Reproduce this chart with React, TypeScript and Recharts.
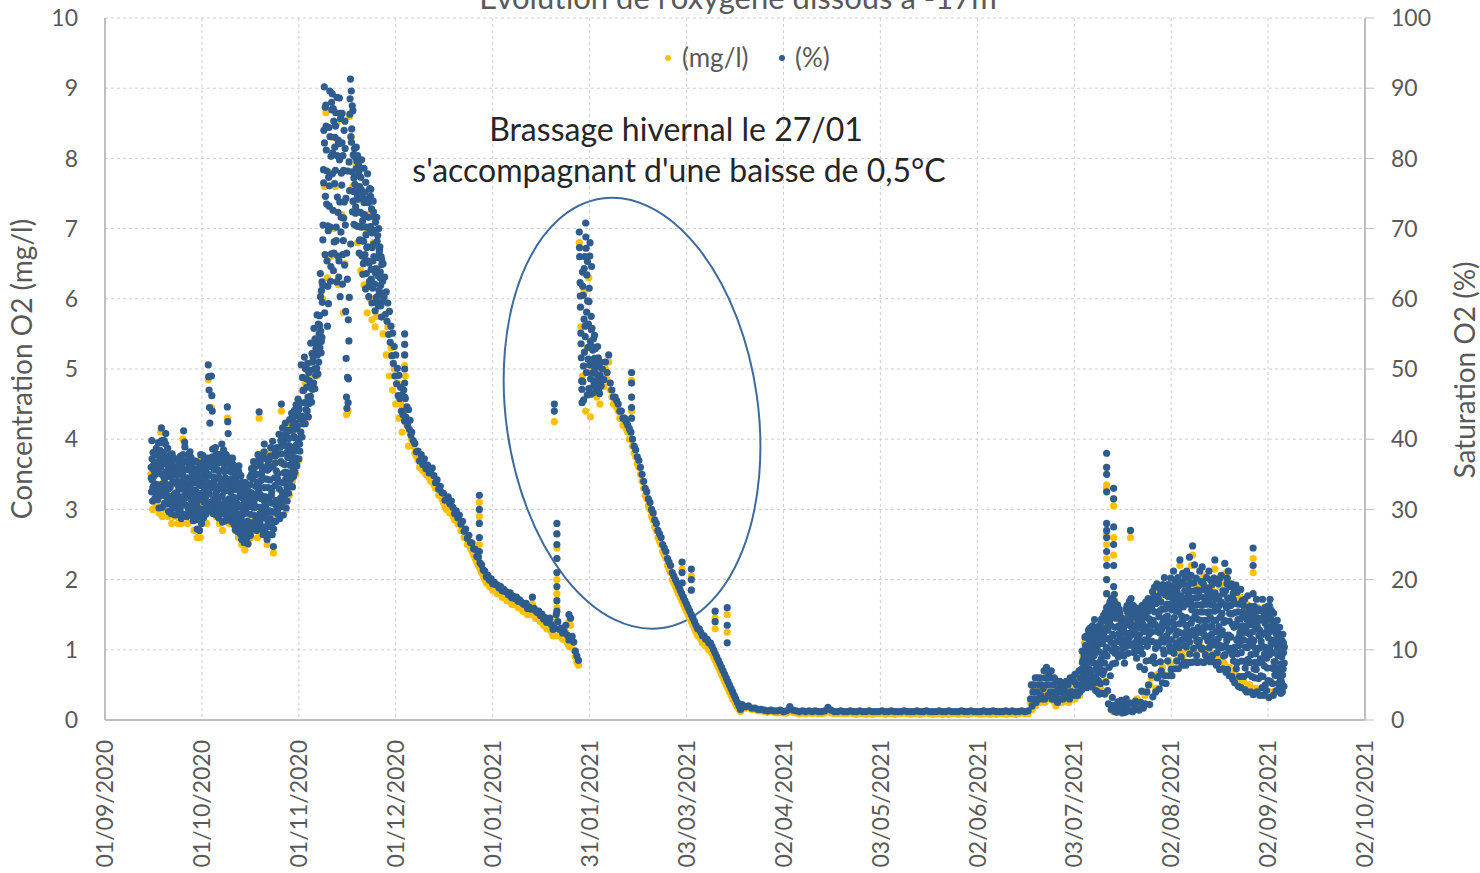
import React from 'react';
import { ScatterChart, Scatter, XAxis, YAxis, CartesianGrid, ReferenceArea } from 'recharts';

const FONT = 'Lato, "Open Sans", sans-serif';
const TXT = '#595959';

// x axis: days since 01/09/2020
const xTickDays = [0, 30.5, 61, 91.5, 122, 152.5, 183, 213.5, 244, 274.5, 305, 335.5, 366, 396.5];
const xTickLabels = ['01/09/2020', '01/10/2020', '01/11/2020', '01/12/2020', '01/01/2021', '31/01/2021', '03/03/2021', '02/04/2021', '03/05/2021', '02/06/2021', '03/07/2021', '02/08/2021', '02/09/2021', '02/10/2021'];
const leftTicks = [0, 1, 2, 3, 4, 5, 6, 7, 8, 9, 10];
const rightTicks = [0, 10, 20, 30, 40, 50, 60, 70, 80, 90, 100];

// ---- Saturation (%) series ----
// every 0.125 day
const pctAutumnStart = 14.5;
const pctAutumn = [
  36.0,32.5,39.8,34.2,31.2,38.1,33.3,35.6, 34.8,37.9,31.6,35.9,33.0,38.7,35.1,32.2,
  35.6,31.4,39.5,33.5,30.2,37.9,32.4,36.6, 37.2,33.1,41.6,35.0,30.3,39.5,32.0,38.1,
  34.6,39.8,30.9,36.5,32.7,40.8,35.4,31.8, 34.7,30.8,38.7,32.9,29.7,37.2,31.8,35.8,
  33.1,36.7,29.4,34.6,31.2,37.9,33.8,30.3, 33.9,30.3,37.3,32.2,29.2,36.0,31.1,34.9,
  32.4,35.8,29.3,34.0,30.6,36.8,33.1,30.0, 33.7,29.9,37.6,31.8,28.7,36.2,30.8,34.8,
  35.3,31.2,41.2,33.6,29.3,38.9,32.0,36.8, 32.6,36.8,29.0,34.5,30.4,37.8,33.3,29.6,
  34.0,30.3,38.2,32.1,29.2,36.6,31.2,35.2, 32.0,35.9,28.4,33.8,29.8,36.9,32.8,29.1,
  32.6,28.5,36.8,30.6,27.2,35.1,29.5,33.7, 31.3,35.9,27.0,33.4,29.0,37.8,32.3,28.0,
  33.8,30.0,37.7,32.0,28.8,36.3,31.0,34.9, 32.7,36.2,29.3,34.4,30.8,37.3,33.5,30.0,
  50.6,48.9,47.0,44.5,42.3,36.1,31.0,33.7, 49.0,46.2,44.0,38.6,29.4,34.6,31.5,36.8,
  34.2,30.1,38.8,32.3,29.2,37.2,31.2,35.6, 32.8,36.6,28.8,34.6,30.5,37.8,33.4,29.7,
  34.0,29.8,39.3,31.9,28.2,37.6,30.8,35.7, 32.6,36.4,28.4,34.5,30.1,37.8,33.5,29.2,
  44.6,42.5,40.8,35.5,28.8,33.4,30.4,37.3, 32.5,36.2,28.3,34.3,29.9,37.3,33.2,29.1,
  31.7,27.8,35.8,29.8,27.1,34.2,28.7,32.8, 30.9,34.9,26.8,32.9,28.6,36.2,31.8,27.7,
  30.5,26.5,34.8,28.6,25.7,33.2,27.5,31.6, 29.3,32.8,25.3,31.1,27.0,33.8,30.2,26.1,
  29.5,25.8,33.3,27.7,25.1,32.0,26.8,30.6, 30.4,34.6,26.3,32.4,28.1,35.8,31.4,27.2,
  32.2,28.0,36.8,30.2,27.2,35.1,29.1,33.3, 31.6,36.2,27.0,33.9,29.0,37.8,32.7,27.9,
  43.9,33.2,28.1,36.8,30.3,27.2,35.0,31.5, 31.9,37.6,26.4,34.4,28.8,39.3,33.1,27.5,
  31.8,26.6,37.2,29.5,25.7,35.6,28.4,33.1, 31.5,37.1,26.4,34.2,28.7,38.8,33.0,27.5,
  32.6,26.4,39.7,29.6,24.7,37.7,28.2,34.5, 33.4,37.6,28.3,35.5,30.4,38.8,34.4,29.3,
  35.1,30.2,40.7,32.9,28.7,38.9,31.6,36.8, 45.0,36.6,30.4,41.6,33.8,29.2,39.6,35.2,
  36.4,32.0,42.3,34.3,30.2,40.4,33.1,38.2, 37.4,41.2,32.3,39.1,34.4,42.8,36.3,33.3,
  38.8,34.4,43.7,36.7,33.2,42.0,35.6,40.4, 40.2,44.1,35.3,42.3,37.3,44.9,39.2,36.2,
  41.8,38.4,45.7,40.1,37.2,44.3,39.3,42.9,
];
// extra readings in the core of the autumn band, every 0.25 day
const pctAutumnCoreStart = 14.5625;
const pctAutumnCore = [
  34.5,37.2,33.1,36.3, 36.4,33.6,37.8,32.9, 33.2,36.8,31.9,38.4, 36.0,39.8,33.6,37.5,
  37.4,33.8,39.3,32.1, 33.5,36.3,31.0,37.7, 35.4,31.8,36.5,30.5, 31.6,35.3,30.2,33.7,
  34.9,31.4,35.6,33.3, 30.2,35.5,32.9,37.0, 37.8,34.4,39.6,30.6, 31.7,35.7,33.9,30.1,
  36.1,33.0,37.4,30.6, 30.7,34.6,31.5,35.4, 34.3,29.6,32.0,35.9, 30.1,34.6,36.6,29.3,
  35.6,29.8,33.2,37.0, 31.6,35.3,32.2,36.6, 35.0,32.2,37.3,29.8, 33.1,37.5,30.3,35.7,
  36.4,33.3,37.9,30.6, 31.5,35.5,29.9,37.0, 33.0,36.8,29.4,38.5, 35.4,31.2,37.1,29.4,
  34.2,36.5,31.5,32.6, 30.9,35.3,31.8,36.4, 33.8,30.4,35.0,28.3, 29.4,33.7,35.4,30.4,
  32.5,27.4,33.9,29.6, 27.8,31.9,26.4,32.9, 31.4,28.3,32.6,26.5, 33.5,29.3,35.0,27.4,
  34.3,31.1,36.0,28.3, 30.4,35.0,28.4,36.9, 32.3,29.4,34.1,36.1, 35.6,29.9,38.2,31.0,
  30.6,34.3,27.5,36.4, 35.8,29.8,37.6,32.0, 30.9,36.1,27.2,38.6, 36.6,31.3,37.9,29.6,
  33.9,37.9,30.9,39.8, 37.9,32.4,40.5,31.3, 39.1,35.3,41.3,31.2, 35.2,40.1,33.6,38.1,
  41.3,37.7,42.9,34.7, 38.3,41.4,36.5,43.4, 43.7,39.9,44.9,38.3,
];
// every 0.125 day
const pctPeakStart = 61.5;
const pctPeak = [
  45.2,41.0,50.6,43.3,40.3,48.8,42.2,46.9, 47.0,43.1,51.7,45.2,42.2,50.0,44.2,48.6,
  47.4,44.0,50.8,46.0,43.2,49.5,45.1,48.3, 49.8,46.1,53.7,48.0,45.3,52.2,47.1,51.0,
  51.7,48.0,55.8,50.0,47.2,54.3,49.1,52.9, 53.5,50.1,57.7,52.0,49.3,56.4,51.0,55.0,
  57.6,53.0,63.6,55.4,52.3,61.2,54.5,59.5, 62.0,70.5,78.4,84.0,90.2,58.0,66.3,74.6,
  87.6,81.2,73.5,65.4,56.1,61.8,69.7,77.3, 84.4,76.1,89.6,70.2,62.5,80.3,66.4,86.9,
  89.2,80.8,72.6,64.0,85.3,68.1,76.4,83.0, 78.3,86.5,70.2,62.4,88.7,74.5,66.1,82.6,
  82.1,65.4,88.6,73.8,60.3,85.7,69.5,77.9, 76.2,86.4,62.1,80.4,68.3,71.5,84.0,64.8,
  85.3,70.5,58.2,51.5,46.0,44.4,62.8,78.2, 45.2,48.6,54.0,60.2,75.4,88.5,91.3,83.1,
  89.6,84.2,78.1,72.4,86.8,80.5,75.3,70.6, 81.4,76.3,80.2,73.1,78.5,70.4,79.6,74.8,
  80.4,74.2,70.3,78.1,66.5,76.0,68.4,72.3, 77.3,70.2,79.8,66.1,74.4,63.5,72.0,68.2,
  78.6,72.0,65.3,75.2,61.4,69.1,63.6,67.3, 74.2,77.8,67.4,71.6,60.3,65.1,62.5,69.8,
  70.3,75.6,64.2,72.8,59.4,67.3,61.5,73.9, 72.4,66.0,69.8,62.1,58.3,70.9,64.3,60.2,
  71.6,68.2,65.9,63.3,59.0,70.0,61.2,67.1, 67.4,63.8,61.9,66.0,57.4,64.9,59.6,62.5,
];
// extra readings in the core of the November peak, every 0.25 day
const pctPeakCoreStart = 67.5625;
const pctPeakCore = [
  56.2,60.3,53.9,62.4, 68.4,76.5,82.2,87.3, 84.6,78.2,70.4,59.3, 73.2,83.1,64.6,88.0,
  77.8,87.1,66.5,81.6, 84.6,68.3,80.4,72.3, 63.1,79.8,86.4,71.6, 82.2,66.3,78.3,73.8,
  81.4,74.3,66.5,48.8, 57.0,79.5,86.3,67.8, 82.3,87.5,73.9,77.2, 77.4,72.2,81.6,75.5,
  72.4,79.0,68.3,75.2, 75.6,68.3,71.1,65.0, 73.7,66.3,76.6,70.2, 65.4,73.7,61.8,75.7,
  74.6,62.8,69.4,65.4, 67.8,71.6,63.7,59.6, 64.2,69.0,60.5,66.7, 63.0,59.0,65.6,60.7,
];
// every 0.25 day
const pctFallStart = 87.5;
const pctFall = [
  65.0,60.3,63.1,57.8, 61.0,56.8,59.4,54.9, 58.2,53.8,56.1,51.9, 55.1,50.8,53.2,49.0,
  52.0,47.9,50.1,46.2, 49.1,45.8,47.4,44.0, 46.3,43.5,47.0,42.6, 45.8,43.1,44.6,41.9,
  44.2,41.4,42.7,40.6,
];
// every 0.5 day
const pctWinterStart = 96.5;
const pctWinter = [
  41,39.8, 39.4,38.2, 38.3,36.9, 37.8,36.4, 37.2,35.8, 36.3,35.2, 35.4,35.9, 34.8,33.8, 34.2,32.9, 33.3,32.4,
  32.3,31.3, 31.4,31.8, 30.8,31.2, 30.3,29.4, 29.8,28.8, 29.2,27.9, 28.3,26.9, 27.2,25.9, 26.3,25.3, 25.2,24.4,
  24.3,23.3, 23.2,22.4, 22.1,21.4, 21.2,20.4, 20.6,19.9, 20.1,19.4, 19.6,19.3, 19.2,18.8, 19,18.4, 18.6,18.3,
  18.2,17.8, 18.1,17.4, 17.6,17.3, 17.5,16.9, 17.1,16.8, 16.6,16.4, 16.6,15.9, 16.1,15.8, 17.5,15.9, 15.6,15.3,
  15.5,14.9, 15.1,14.4, 14.6,13.9, 14.1,14.5, 13.6,12.9, 13.1,15, 14,12.9, 13.1,12.4, 12.6,13.5, 12.1,11.4,
  14.5,11.9, 11.1,9.8, 9.1,8.5,
];
// every 0.125 day
const pctMixStart = 149.25;
const pctMix = [
  69.5,66.0,62.3,58.8,55.1,51.6,48.3,45.2, 63.8,48.2,60.5,45.6,57.1,52.4,66.0,54.6,
  70.8,67.2,49.5,63.4,46.3,59.7,53.1,56.4, 47.2,61.5,50.6,68.0,53.9,46.4,57.5,64.6,
  55.8,49.4,52.7,46.6,54.3,48.2,51.5,50.1, 52.9,48.1,51.4,47.3,50.5,49.2,53.2,48.7,
  51.6,47.2,50.3,46.5,49.1,48.0,51.0,47.6,
];
const pctMixCoreStart = 149.3125;
const pctMixCore = [
  67.3,60.4,53.6,47.1, 61.8,50.4,64.3,56.1, 68.8,58.1,65.3,51.4, 59.6,66.1,48.6,55.6, 53.2,50.7,47.6,54.8,
];
// every 0.5 day
const pctSpringStart = 156.5;
const pctSpring = [
  50,48.5, 51,49.5, 52,48, 47,46, 46,45.5, 45,44, 44,43, 43,42.5, 42,41.5, 41,40,
  39,38.5, 37.5,37, 36,35, 34,33, 32.5,31.5, 31,30, 29.5,28.5, 28,27, 26.5,26, 25,24.5,
  24,23, 22.5,22, 21,20.5, 20,19.5, 19,18.5, 18,17.5, 17,16.5, 16,15.5, 15,14.5, 14,13.5,
  13,13, 12.5,12, 12,11.5, 11.5,11, 11,10.5, 10,9.5, 9,8.5, 8,7.5, 7,6.5, 6,5.5,
  5,4.5, 4,3.5, 3,2.5, 2,1.5,
];
// every day
const pctAnoxStart = 200.5;
const pctAnox = [
  2.2,1.9,2.0,1.7,1.7,1.5,1.5,1.4,1.3,1.4, 1.3,1.3,1.4,1.2,1.3,1.9,1.4,1.3,1.2,1.3,
  1.2,1.3,1.2,1.3,1.2,1.2,1.3,1.8,1.4,1.2, 1.2,1.3,1.2,1.2,1.3,1.2,1.2,1.3,1.2,1.2,
  1.3,1.2,1.2,1.2,1.3,1.2,1.2,1.3,1.2,1.2, 1.2,1.3,1.2,1.2,1.2,1.3,1.2,1.2,1.3,1.2,
  1.2,1.2,1.3,1.2,1.2,1.3,1.2,1.2,1.2,1.3, 1.2,1.2,1.3,1.2,1.2,1.2,1.3,1.2,1.2,1.3,
  1.2,1.2,1.2,1.3,1.2,1.3,1.2,1.2,1.3,1.2, 1.3,
];
// every 0.25 day
const pctEarlySummerStart = 291.25;
const pctEarlySummer = [
  3,5,2,4, 5,3,6,2.5, 4,6,3,5, 6,3.5,5,3, 4.5,7,3,6, 7.5,5,3.5,6.5, 6,4,7,3, 5,3,6,4,
  3.5,5.5,2.5,4.5, 4,5.5,3,5, 5,3,4.5,3.5, 4,5.5,3.5,5, 5.5,3,6,4, 4,6,3.5,5.5, 6.5,4,5,3.5,
  5,7,4,6,
];
// every 0.125 day
const pctSummerStart = 307.25;
const pctSummer = [
  7.2,4.3,9.8,5.9,8.5,4.9,6.6,9.1, 8.4,11.8,5.0,10.1,6.6,12.0,4.6,9.3,
  9.7,5.4,12.8,7.3,11.4,6.2,13.1,8.5, 12.9,6.1,10.4,4.7,13.4,8.2,11.6,5.5,
  9.2,14.3,5.3,11.9,4.2,13.0,7.4,10.6, 11.1,4.0,13.3,6.8,9.7,3.7,12.4,8.3,
  5.2,13.8,8.7,14.4,3.8,10.9,6.5,12.2, 14.9,7.0,11.6,3.7,15.3,9.3,5.4,13.1,
  10.3,15.9,4.2,12.8,2.3,16.3,7.5,14.0, 16.8,6.3,13.5,1.5,17.3,9.9,3.2,12.2,
  2.1,15.4,10.4,17.9,1.2,13.2,8.1,16.2, 14.6,1.1,11.2,16.4,2.6,9.0,13.4,1.8,
  9.3,15.2,1.4,12.6,2.8,14.1,10.9,1.0, 12.4,1.6,14.3,9.1,2.2,11.0,13.5,1.1,
  15.8,3.0,11.6,16.3,1.6,13.7,9.5,14.9, 1.3,16.9,10.8,14.2,2.4,17.3,12.5,15.6,
  14.8,1.2,12.2,16.3,9.6,2.1,15.4,11.0, 2.7,13.3,15.4,8.8,1.6,11.5,14.3,10.0,
  15.9,1.4,12.1,7.6,14.2,2.5,10.2,13.3, 4.1,16.3,9.4,13.6,1.7,15.0,11.2,7.2,
  12.6,2.3,16.8,8.4,14.6,4.0,10.5,15.6, 17.3,5.0,11.3,14.4,2.2,16.0,8.5,12.6,
  6.4,15.9,11.2,18.3,3.3,13.5,9.0,17.0, 18.9,8.1,13.6,4.0,16.6,11.0,19.4,6.0,
  10.5,17.4,6.2,14.7,4.4,18.8,12.4,8.3, 18.2,7.0,12.9,15.8,5.3,19.3,10.0,14.3,
  9.4,20.3,6.3,14.6,17.8,5.2,12.0,16.4, 16.5,8.4,19.3,11.4,6.3,14.0,18.0,9.8,
  12.8,20.2,7.2,15.7,6.3,18.4,10.2,17.2, 21.2,9.5,14.6,17.8,7.3,19.9,12.1,16.0,
  8.4,18.3,12.6,20.3,7.3,15.4,10.3,17.1, 22.8,11.3,16.5,9.0,19.6,7.8,14.2,20.9,
  14.3,19.4,8.2,17.3,10.6,20.3,12.5,7.8, 10.4,21.2,13.4,16.5,8.2,19.3,11.8,18.0,
  23.2,9.4,18.4,12.6,20.6,8.2,15.7,17.3, 24.8,14.4,10.2,19.5,8.3,22.1,12.0,17.4,
  12.3,20.2,9.2,16.4,8.2,18.5,14.3,10.6, 18.4,11.3,21.2,14.2,8.3,16.4,19.7,12.6,
  21.8,10.2,15.4,19.4,8.2,13.3,17.3,11.9, 9.3,17.5,13.2,20.3,8.7,15.3,11.3,18.8,
  15.4,21.2,10.3,18.4,8.3,13.2,19.9,12.1, 12.2,19.3,9.2,16.4,8.3,14.2,20.2,10.7,
  22.8,11.3,17.2,14.2,7.8,19.6,9.6,15.7, 8.2,19.4,13.3,16.3,7.2,20.2,10.6,14.7,
  20.6,10.3,15.2,12.2,7.3,18.0,9.1,13.9, 14.2,22.3,9.3,18.4,6.8,16.0,11.3,20.2,
  7.2,17.3,21.2,12.1,6.3,15.2,19.0,9.9, 16.3,10.2,19.4,6.2,13.6,5.8,18.0,8.4,
  13.2,18.4,5.3,15.3,9.6,19.2,7.3,11.4, 18.2,8.2,14.3,4.8,16.5,10.6,6.2,12.4,
  11.2,18.6,4.6,15.3,8.4,17.0,6.2,13.4, 16.3,6.2,13.3,17.2,4.3,10.4,14.9,8.2,
  4.0,14.3,10.3,17.7,6.5,12.4,16.0,8.3, 12.2,16.2,4.0,9.3,14.3,6.2,15.5,10.6,
  15.2,3.6,11.3,16.2,6.0,13.5,8.2,10.0, 7.2,17.2,4.0,13.3,10.2,15.6,5.9,12.0,
  14.2,3.5,10.3,15.6,6.3,12.4,8.4,4.6, 17.2,6.2,12.2,3.5,15.0,9.4,13.8,5.0,
  10.3,15.3,4.2,13.4,7.4,16.2,5.6,11.7, 3.2,16.3,9.3,17.2,5.5,13.2,11.0,7.4,
  14.2,5.2,11.3,3.5,15.2,8.3,12.7,6.4, 8.3,13.3,4.1,12.2,6.3,14.2,10.2,5.2,
  12.3,4.4,9.3,13.2,6.1,10.7,3.8,8.0, 5.3,11.3,4.0,12.2,7.3,9.6,4.8,10.4,
];
// extra readings in the core of the summer band, every 0.25 day
const pctSummerCoreStart = 307.3125;
const pctSummerCore = [
  6.0,8.2,5.2,7.6, 7.8,10.6,6.1,9.0, 8.2,11.9,6.8,10.4, 11.2,7.0,12.5,9.6,
  8.1,12.6,6.2,10.3, 10.6,5.6,12.0,7.9, 7.1,11.8,9.5,13.0, 12.4,8.1,14.2,10.2,
  9.1,13.9,11.6,15.1, 14.7,11.1,16.0,8.0, 12.0,16.9,9.5,14.5, 10.1,14.9,12.2,15.8,
  13.3,11.6,14.6,9.3, 10.2,12.8,8.1,13.9, 14.1,10.5,15.4,12.3, 11.7,15.5,13.4,16.3,
  13.6,10.5,15.2,12.4, 12.3,14.6,9.8,13.6, 10.9,14.5,13.1,15.3, 14.0,11.2,15.6,12.6,
  11.4,15.4,13.2,16.1, 15.5,12.2,16.8,13.7, 12.5,16.6,14.2,17.6, 15.4,10.2,17.6,12.6,
  13.2,17.1,11.0,15.6, 16.8,11.5,13.8,18.1, 11.1,15.8,18.6,13.4, 14.8,17.6,12.6,10.5,
  16.5,11.4,19.1,13.8, 13.1,18.8,15.6,11.0, 16.5,10.9,19.1,13.7, 12.4,17.7,14.8,19.4,
  16.1,11.6,18.4,13.5, 14.6,17.5,12.1,20.3, 11.1,16.8,13.8,19.5, 16.2,12.8,18.4,14.9,
  15.4,11.3,17.4,13.2, 12.5,17.6,15.4,10.1, 16.4,12.4,18.6,14.2, 12.0,16.5,14.2,18.1,
  17.1,11.2,14.6,16.4, 13.4,17.6,11.0,15.5, 18.1,12.6,15.7,10.6, 11.6,17.6,14.6,12.4,
  16.8,12.7,18.4,10.5, 12.1,16.4,10.4,19.4, 17.4,10.2,14.1,16.3, 11.8,15.1,9.3,17.2,
  16.6,10.4,13.6,8.2, 9.4,15.4,11.8,13.3, 14.4,9.6,16.6,12.4, 11.4,15.3,7.4,12.7,
  13.4,8.6,15.2,11.2, 8.2,13.6,11.5,14.4, 12.6,7.3,14.0,9.4, 9.8,14.6,8.1,15.8,
  12.8,8.7,11.2,14.4, 10.5,14.6,7.7,16.0, 12.5,8.8,14.4,9.8, 14.8,10.2,12.6,15.6,
  9.6,13.5,7.3,10.8, 11.3,7.4,12.8,9.2, 7.1,11.6,10.0,5.6, 9.0,6.4,11.0,8.1,
];
// isolated vertical bursts [day, values...]
const pctBursts: number[][] = [
  [94.3, 55, 53.5, 52, 50, 48, 46],
  [117.8, 32, 30, 28, 26, 24],
  [141.4, 45, 44],
  [142.2, 28, 26.5, 25, 23, 21, 19, 17, 15.5],
  [146, 15],
  [165.7, 49.5, 48, 46, 44.5, 43],
  [181.6, 22.5, 21, 19.5],
  [184.5, 21.5, 20, 18.5],
  [192, 15.5, 14],
  [195.8, 16, 13.5, 11],
  [315.2, 38, 36, 35, 32.5, 28, 27, 26, 24, 22, 20, 18, 16],
  [317.4, 33, 31.5, 27.5, 25, 22, 19],
  [322.7, 27],
  [361.3, 24.5, 22, 18],
];

// ---- Concentration (mg/l) series, every 0.5 day ----
const mgAutumnStart = 14.5;
const mgAutumn = [
  3.5,3.0, 3.7,3.05, 3.1,2.95, 4.1,2.9, 3.4,3.0, 3.8,2.9, 3.0,2.8, 3.6,2.9, 3.5,2.8, 3.0,2.8,
  4.0,2.9, 3.6,2.8, 3.7,2.95, 3.5,2.7, 3.2,2.6, 3.7,2.6, 3.1,2.85, 3.6,2.8, 4.85,3.3, 4.45,2.95,
  3.5,2.9, 3.7,2.8, 3.1,2.7, 3.6,2.9, 4.3,2.8, 3.0,2.85, 3.4,2.7, 2.8,2.6, 3.4,2.5, 2.7,2.42,
  3.2,2.5, 2.9,2.6, 3.6,2.7, 2.9,2.6, 4.3,3.0, 3.8,2.7, 2.9,2.5, 3.8,2.8, 3.2,2.38, 3.7,2.9,
  3.4,2.9, 4.4,3.1, 4.1,3.0, 3.9,3.2, 4.2,3.4, 3.6,3.5, 4.2,3.7,
];
const mgPeakStart = 61.5;
const mgPeak = [
  4.1,4.7, 4.3,4.8, 4.3,4.9, 4.6,5.1, 4.8,5.4, 4.9,5.6, 5.4,6.1, 6.0,7.6, 8.65,6.3, 7.8,6.6,
  8.3,7.0, 7.6,8.5, 6.2,8.0, 7.2,5.8, 6.5,4.35, 4.4,8.6, 8.3,7.6, 7.4,7.9, 6.8,7.6, 6.4,7.4,
  6.2,7.0, 5.8,7.2, 6.0,5.7, 6.8,5.6, 5.75,6.6, 6.0,6.3, 5.5,6.0, 5.2,5.6, 4.9,5.3, 4.7,5.0,
  4.5,4.8, 4.3,4.5, 4.1,4.4, 4.9,4.2, 3.9,4.1,
];
const mgWinterStart = 96.5;
const mgWinter = [
  4.0,3.9, 3.8,3.75, 3.7,3.6, 3.65,3.55, 3.6,3.5, 3.5,3.45, 3.4,3.45, 3.35,3.3, 3.3,3.2, 3.2,3.15,
  3.1,3.05, 3.0,3.05, 2.95,3.0, 2.9,2.85, 2.85,2.8, 2.8,2.7, 2.7,2.6, 2.6,2.5, 2.5,2.45, 2.4,2.35,
  2.3,2.25, 2.2,2.15, 2.1,2.05, 2.0,1.95, 1.95,1.9, 1.9,1.85, 1.85,1.85, 1.8,1.8, 1.8,1.75, 1.75,1.75,
  1.7,1.7, 1.7,1.65, 1.65,1.65, 1.65,1.6, 1.6,1.6, 1.55,1.55, 1.55,1.5, 1.5,1.5, 1.65,1.5, 1.45,1.45,
  1.45,1.4, 1.4,1.35, 1.35,1.3, 1.3,1.35, 1.25,1.2, 1.2,1.4, 1.3,1.2, 1.2,1.15, 1.15,1.25, 1.1,1.05,
  1.35,1.1, 1.0,0.9, 0.82,0.78,
];
const mgMixStart = 149.25;
const mgMix = [6.8,5.6,4.9,6.1,4.4,5.3,6.3,4.32,5.0,4.7,5.0,4.6,4.9,4.5];
const mgSpringStart = 156.5;
const mgSpring = [
  4.9,4.75, 5.0,4.85, 5.1,4.7, 4.6,4.5, 4.5,4.45, 4.4,4.3, 4.3,4.2, 4.2,4.15, 4.1,4.0, 4.0,3.9,
  3.8,3.75, 3.65,3.6, 3.5,3.4, 3.3,3.2, 3.15,3.05, 3.0,2.9, 2.85,2.75, 2.7,2.6, 2.55,2.5, 2.4,2.35,
  2.3,2.2, 2.15,2.1, 2.0,1.95, 1.9,1.85, 1.8,1.75, 1.7,1.65, 1.6,1.55, 1.5,1.45, 1.4,1.35, 1.3,1.25,
  1.2,1.2, 1.15,1.1, 1.1,1.05, 1.05,1.0, 1.0,0.95, 0.9,0.85, 0.8,0.75, 0.7,0.65, 0.6,0.55, 0.5,0.45,
  0.4,0.35, 0.3,0.27, 0.22,0.18, 0.15,0.12,
];
const mgAnoxStart = 200.5;
const mgAnox = [
  0.2,0.17,0.18,0.15,0.15,0.13,0.13,0.12,0.11,0.12, 0.11,0.1,0.11,0.1,0.1,0.17,0.11,0.1,0.09,0.1,
  0.09,0.1,0.09,0.1,0.09,0.09,0.1,0.15,0.1,0.09, 0.09,0.1,0.09,0.09,0.1,0.09,0.08,0.09,0.09,0.08,
  0.09,0.08,0.09,0.09,0.1,0.08,0.09,0.09,0.08,0.09, 0.09,0.1,0.09,0.08,0.09,0.09,0.08,0.09,0.1,0.09,
  0.08,0.09,0.09,0.08,0.09,0.08,0.09,0.09,0.08,0.09, 0.09,0.08,0.09,0.1,0.09,0.08,0.09,0.09,0.08,0.09,
  0.08,0.09,0.09,0.08,0.09,0.09,0.08,0.09,0.1,0.09, 0.09,
];
const mgSummerStart = 291.25;
const mgSummer = [
  0.25,0.15, 0.45,0.2, 0.3,0.5, 0.25,0.45, 0.6,0.25, 0.4,0.55, 0.3,0.6, 0.5,0.25, 0.2,0.4, 0.45,0.25,
  0.25,0.4, 0.45,0.3, 0.25,0.5, 0.5,0.3, 0.3,0.55, 0.6,0.35, 0.5,0.9, 1.1,0.55, 0.65,1.2, 1.0,0.55,
  0.5,1.3, 1.1,0.45, 0.45,1.2, 1.4,0.55, 0.4,1.5, 1.6,0.15, 0.12,1.7, 1.5,0.12, 0.15,1.4, 1.3,0.15,
  0.25,1.5, 1.6,0.15, 0.12,1.5, 1.4,0.3, 0.2,1.45, 1.5,0.4, 0.35,1.55, 1.6,0.5, 0.6,1.7, 1.8,0.45,
  0.65,1.75, 1.8,0.75, 0.65,1.9, 1.8,0.85, 0.8,1.9, 2.0,0.95, 0.85,1.9, 2.2,0.95, 0.9,1.85, 2.0,1.0,
  0.95,2.2, 2.35,1.0, 0.95,1.9, 2.0,1.05, 1.0,2.05, 1.9,1.0, 0.95,2.0, 1.9,0.95, 2.15,0.9, 0.85,1.9,
  1.95,0.85, 0.8,2.1, 2.0,0.75, 0.7,1.9, 1.8,0.65, 0.6,1.7, 1.75,0.55, 0.55,1.6, 1.65,0.5, 0.5,1.5,
  1.5,0.45, 0.45,1.6, 1.45,0.42, 0.42,1.6, 1.5,0.4, 0.4,1.6, 1.4,0.4, 0.42,1.3, 1.2,0.45, 0.45,1.1,
];
const mgBursts: number[][] = [
  [94.3, 5.2, 5.05, 4.6],
  [117.8, 3.1, 2.9, 2.5],
  [141.4, 4.25],
  [142.2, 2.65, 2.45, 2.3, 2.0, 1.8, 1.6],
  [146, 1.4],
  [165.7, 4.84, 4.6, 4.4],
  [181.6, 2.15, 1.95],
  [184.5, 2.05, 1.85],
  [192, 1.45, 1.3],
  [195.8, 1.5, 1.25],
  [315.2, 3.6, 3.35, 3.3, 2.65, 2.5, 2.3, 2.0, 1.8],
  [317.4, 3.15, 3.05, 2.6, 2.35],
  [322.7, 2.6],
  [361.3, 2.3, 2.1],
];

type Pt = { x: number; y: number };
const seg = (start: number, step: number, vals: number[]): Pt[] => vals.map((v, i) => ({ x: start + i * step, y: v }));
const bursts = (rows: number[][]): Pt[] => rows.flatMap((r) => r.slice(1).map((v) => ({ x: r[0], y: v })));

const pctData: Pt[] = [
  ...seg(pctAutumnStart, 0.125, pctAutumn),
  ...seg(pctAutumnCoreStart, 0.25, pctAutumnCore),
  ...seg(pctPeakStart, 0.125, pctPeak),
  ...seg(pctPeakCoreStart, 0.25, pctPeakCore),
  ...seg(pctFallStart, 0.25, pctFall),
  ...seg(pctWinterStart, 0.5, pctWinter),
  ...seg(pctMixStart, 0.125, pctMix),
  ...seg(pctMixCoreStart, 0.25, pctMixCore),
  ...seg(pctSpringStart, 0.5, pctSpring),
  ...seg(pctAnoxStart, 1, pctAnox),
  ...seg(pctEarlySummerStart, 0.25, pctEarlySummer),
  ...seg(pctSummerStart, 0.125, pctSummer),
  ...seg(pctSummerCoreStart, 0.25, pctSummerCore),
  ...bursts(pctBursts),
];
const mgData: Pt[] = [
  ...seg(mgAutumnStart, 0.5, mgAutumn),
  ...seg(mgPeakStart, 0.5, mgPeak),
  ...seg(mgWinterStart, 0.5, mgWinter),
  ...seg(mgMixStart, 0.5, mgMix),
  ...seg(mgSpringStart, 0.5, mgSpring),
  ...seg(mgAnoxStart, 1, mgAnox),
  ...seg(mgSummerStart, 0.5, mgSummer),
  ...bursts(mgBursts),
];

const ORANGE = '#FFC000';
const BLUE = '#2E5C8E';

const orangeDot = (p: any) => <circle cx={p.cx} cy={p.cy} r={3.6} fill={ORANGE} />;
const blueDot = (p: any) => <circle cx={p.cx} cy={p.cy} r={3.6} fill={BLUE} />;

const DateTick = (props: any) => {
  const { x, y, payload } = props;
  const idx = xTickDays.indexOf(payload.value);
  return (
    <text x={x} y={y} transform={`rotate(-90 ${x} ${y})`} textAnchor="end" dy="0.36em" fill={TXT} fontSize={23} fontFamily={FONT}>
      {xTickLabels[idx]}
    </text>
  );
};

const EllipseShape = (p: any) => {
  const cx = p.x + p.width / 2;
  const cy = p.y + p.height / 2;
  return (
    <ellipse cx={cx} cy={cy} rx={Math.abs(p.width) / 2} ry={Math.abs(p.height) / 2} transform={`rotate(-8 ${cx} ${cy})`} fill="none" stroke="#3D6B9A" strokeWidth={2} />
  );
};

export default function App() {
  return (
    <div style={{ position: 'absolute', left: 0, top: 0, width: 1480, height: 873, background: '#fff', overflow: 'hidden' }}>
      <ScatterChart width={1480} height={873} margin={{ top: 18, right: 0, bottom: 0, left: 0 }}>
        <CartesianGrid yAxisId="left" stroke="#cfcfcf" strokeDasharray="3 3" />
        <XAxis
          type="number"
          dataKey="x"
          domain={[0, 396.5]}
          ticks={xTickDays}
          interval={0}
          height={153}
          tickSize={0}
          tickMargin={20}
          tickLine={false}
          axisLine={{ stroke: '#BFBFBF', strokeWidth: 2 }}
          tick={<DateTick />}
        />
        <YAxis
          yAxisId="left"
          type="number"
          dataKey="y"
          domain={[0, 10]}
          ticks={leftTicks}
          interval={0}
          width={105}
          tickSize={0}
          tickMargin={27}
          tickLine={false}
          axisLine={{ stroke: '#BFBFBF', strokeWidth: 2 }}
          tick={{ fill: TXT, fontSize: 23, fontFamily: FONT }}
        />
        <YAxis
          yAxisId="right"
          orientation="right"
          type="number"
          dataKey="y"
          domain={[0, 100]}
          ticks={rightTicks}
          interval={0}
          width={115}
          tickSize={9}
          tickMargin={17}
          tickLine={{ stroke: '#BFBFBF' }}
          axisLine={{ stroke: '#BFBFBF', strokeWidth: 2 }}
          tick={{ fill: TXT, fontSize: 23, fontFamily: FONT, textAnchor: 'start' }}
        />
        <Scatter name="(mg/l)" data={mgData} yAxisId="left" fill={ORANGE} shape={orangeDot} isAnimationActive={false} />
        <Scatter name="(%)" data={pctData} yAxisId="right" fill={BLUE} shape={blueDot} isAnimationActive={false} />
        <ReferenceArea yAxisId="left" x1={126.2} x2={205.5} y1={1.28} y2={7.46} shape={EllipseShape} ifOverflow="visible" />
      </ScatterChart>
      <svg width={1480} height={873} style={{ position: 'absolute', left: 0, top: 0, pointerEvents: 'none' }}>
        <text x={738} y={9} textAnchor="middle" fontSize={31} fill={TXT} fontFamily={FONT}>Evolution de l'oxygène dissous à -17m</text>
        <circle cx={668} cy={58} r={3} fill={ORANGE} />
        <text x={682} y={58} dy="0.36em" fontSize={26} fill={TXT} fontFamily={FONT}>(mg/l)</text>
        <circle cx={782} cy={58} r={3} fill={BLUE} />
        <text x={795} y={58} dy="0.36em" fontSize={26} fill={TXT} fontFamily={FONT}>(%)</text>
        <text x={676} y={129} dy="0.36em" textAnchor="middle" fontSize={32} fill="#262626" fontFamily={FONT}>Brassage hivernal le 27/01</text>
        <text x={679} y={170} dy="0.36em" textAnchor="middle" fontSize={32} fill="#262626" fontFamily={FONT}>s'accompagnant d'une baisse de 0,5°C</text>
        <text x={22} y={369} dy="0.36em" textAnchor="middle" transform="rotate(-90 22 369)" fontSize={28} fill={TXT} fontFamily={FONT}>Concentration O2 (mg/l)</text>
        <text x={1465} y={370} dy="0.36em" textAnchor="middle" transform="rotate(-90 1465 370)" fontSize={28} fill={TXT} fontFamily={FONT}>Saturation O2 (%)</text>
      </svg>
    </div>
  );
}
